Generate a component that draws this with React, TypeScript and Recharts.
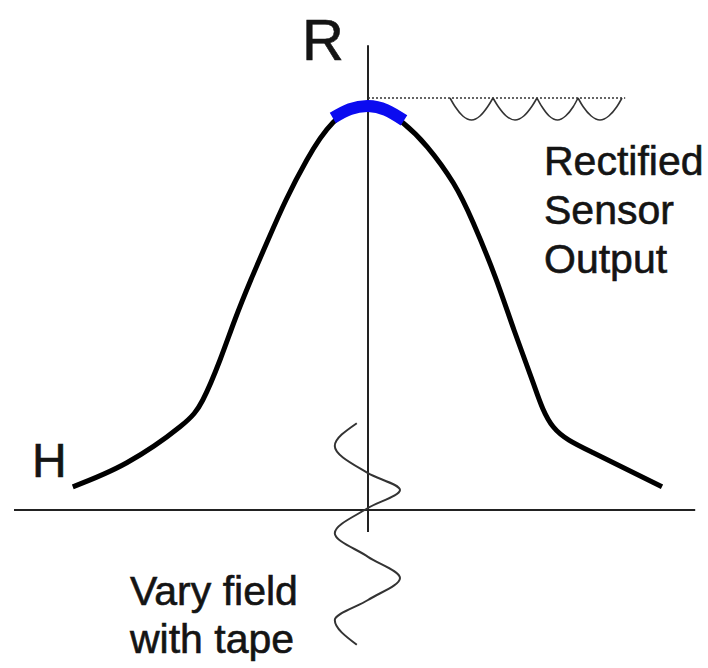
import React from "react";
import { ComposedChart, Line, XAxis, YAxis, ReferenceLine, ReferenceDot } from "recharts";

// Field H (x) and resistance R (y) of the bell-shaped response
const responseH = [-7.38, -6.03, -4.7, -4.13, -3.7, -3.33, -2.93, -2.5, -2.05, -1.53, -0.88, 0, 0.85, 1.48, 2.13, 2.63, 3.18, 3.65, 4.13, 4.63, 5.63, 7.35];
const responseR = [0.58, 1.18, 2.08, 2.75, 3.75, 4.75, 5.75, 6.75, 7.75, 8.75, 9.68, 10.13, 9.7, 9.08, 8.18, 7.18, 5.83, 4.5, 3.18, 2.08, 1.43, 0.58];

// Operating region near the peak (blue)
const peakH = [-0.88, -0.45, 0, 0.45, 0.9];
const peakR = [9.8, 10.02, 10.1, 10.0, 9.74];

// Rectified sensor output (four half-wave arcs under the dotted peak level)
const rectH = [
  2.05, 2.18, 2.37, 2.59, 2.8, 2.99, 3.125,
  3.125, 3.26, 3.455, 3.675, 3.895, 4.09, 4.225,
  4.225, 4.35, 4.53, 4.74, 4.94, 5.13, 5.25,
  5.25, 5.38, 5.58, 5.8, 6.02, 6.22, 6.35,
];
const rectR = [
  10.3, 10.08, 9.85, 9.75, 9.85, 10.08, 10.3,
  10.3, 10.08, 9.85, 9.75, 9.85, 10.08, 10.3,
  10.3, 10.08, 9.85, 9.75, 9.85, 10.08, 10.3,
  10.3, 10.08, 9.85, 9.75, 9.85, 10.08, 10.3,
];
const peakLevelH = [0, 6.43];
const peakLevelR = [10.3, 10.3];

// Tape field variation (vertical wave along the R axis)
const tapeH = [-0.28, -0.83, 0, 0.8, 0, -0.83, 0, 0.8, 0, -0.83, -0.28];
const tapeR = [2.17, 1.6, 0.92, 0.5, 0.05, -0.58, -1.17, -1.7, -2.25, -2.75, -3.37];

// Labels
const axisLabelR = "R";
const axisLabelH = "H";
const outputLabel = ["Rectified", "Sensor", "Output"];
const tapeLabel = ["Vary field", "with tape"];

const zip = (hs: number[], rs: (number | null)[]) => hs.map((h, i) => ({ h, r: rs[i] }));

const response = zip(responseH, responseR);
const peak = zip(peakH, peakR);
const rectified: { h: number; r: number | null }[] = [];
rectH.forEach((h, i) => {
  if (i > 0 && i % 7 === 0) rectified.push({ h, r: null });
  rectified.push({ h, r: rectR[i] });
});
const peakLevel = zip(peakLevelH, peakLevelR);
const tape = zip(tapeH, tapeR);

const FONT = "'Liberation Sans', Arial, Helvetica, sans-serif";
const TEXT = "#141414";

const textShape = (lines: string[], size: number, lineGap: number) => (p: any) => (
  <text
    x={p.cx}
    y={p.cy}
    fontFamily={FONT}
    fontSize={size}
    fill={TEXT}
    stroke={TEXT}
    strokeWidth={0.6}
    textAnchor="start"
  >
    {lines.map((t, i) => (
      <tspan key={i} x={p.cx} dy={i === 0 ? 0 : lineGap}>
        {t}
      </tspan>
    ))}
  </text>
);

export default function App() {
  return (
    <div style={{ position: "absolute", left: 0, top: 0, width: 708, height: 668, background: "#fff" }}>
      <ComposedChart width={708} height={668} margin={{ top: 10, right: 0, bottom: 2, left: 8 }}>
        <XAxis type="number" dataKey="h" domain={[-9, 8.5]} allowDataOverflow hide />
        <YAxis type="number" dataKey="r" domain={[-3.9, 12.5]} allowDataOverflow hide />
        <ReferenceLine
          segment={[{ x: -8.85, y: 0 }, { x: 8.18, y: 0 }]}
          stroke="#222"
          strokeWidth={2}
          ifOverflow="visible"
        />
        <ReferenceLine
          segment={[{ x: 0, y: -0.55 }, { x: 0, y: 11.62 }]}
          stroke="#222"
          strokeWidth={2}
          ifOverflow="visible"
        />
        <Line data={peakLevel} dataKey="r" type="linear" stroke="#333" strokeWidth={1.3} strokeDasharray="2 2" dot={false} isAnimationActive={false} />
        <Line data={rectified} dataKey="r" type="monotone" stroke="#333" strokeWidth={1.6} dot={false} connectNulls={false} isAnimationActive={false} />
        <Line data={response} dataKey="r" type="natural" stroke="#000" strokeWidth={5} dot={false} isAnimationActive={false} />
        <Line data={peak} dataKey="r" type="natural" stroke="#0b0bf0" strokeWidth={12} dot={false} isAnimationActive={false} />
        <Line data={tape} dataKey="r" type="monotoneY" stroke="#333" strokeWidth={2} dot={false} isAnimationActive={false} />
        <ReferenceDot x={-1.65} y={11.25} r={0} shape={textShape([axisLabelR], 58, 0)} />
        <ReferenceDot x={-8.4} y={0.83} r={0} shape={textShape([axisLabelH], 48, 0)} />
        <ReferenceDot x={4.4} y={8.38} r={0} shape={textShape(outputLabel, 41, 49)} />
        <ReferenceDot x={-5.95} y={-2.38} r={0} shape={textShape(tapeLabel, 41, 48)} />
      </ComposedChart>
    </div>
  );
}
